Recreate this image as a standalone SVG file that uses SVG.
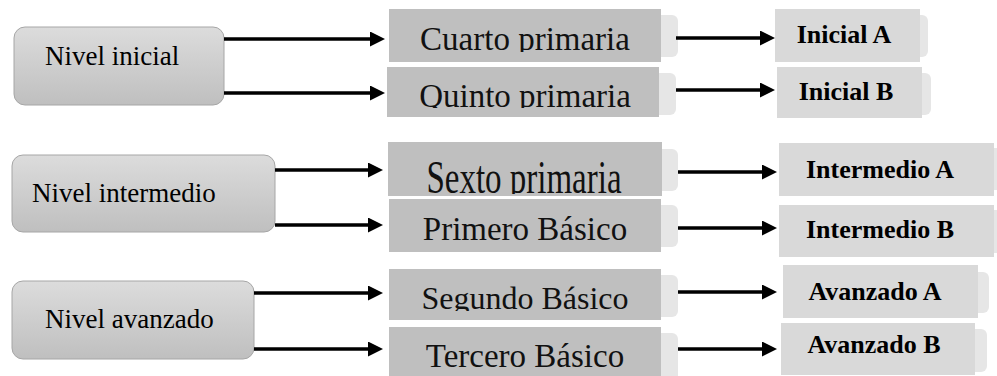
<svg xmlns="http://www.w3.org/2000/svg" width="997" height="376" viewBox="0 0 997 376">
<style>
.lvl{fill:url(#lg);stroke:#a6a6a6;stroke-width:1}
.mid{fill:#bfbfbf}
.rgt{fill:#d9d9d9}
.shd{fill:#e6e6e6}
.t1{font-family:"Liberation Serif",serif;font-size:27px;fill:#000}
.t2{font-family:"Liberation Serif",serif;font-size:33px;fill:#111;text-anchor:middle}
.t3{font-family:"Liberation Serif",serif;font-size:26px;font-weight:bold;fill:#000;text-anchor:middle}
.ar{stroke:#000;stroke-width:3.5;fill:none;marker-end:url(#ah)}
</style>
<defs>
<linearGradient id="lg" x1="0" y1="0" x2="0" y2="1">
<stop offset="0" stop-color="#dcdcdc"/>
<stop offset="1" stop-color="#bfbfbf"/>
</linearGradient>
<marker id="ah" markerUnits="userSpaceOnUse" markerWidth="16" markerHeight="16" refX="2" refY="7.5" orient="auto">
<path d="M0,0 L15,7.5 L0,15 Z" fill="#000"/>
</marker>
<clipPath id="c1"><rect x="389" y="9" width="272" height="43"/></clipPath>
<clipPath id="c2"><rect x="387" y="67" width="272" height="41"/></clipPath>
<clipPath id="c3"><rect x="388" y="142" width="274" height="52"/></clipPath>
<clipPath id="c4"><rect x="389" y="269" width="272" height="42"/></clipPath>
</defs>

<g id="nivel-inicial">
<rect class="lvl" x="14" y="27" width="210" height="78" rx="11"/>
<text class="t1" x="45" y="65">Nivel inicial</text>
</g>
<g id="nivel-intermedio">
<rect class="lvl" x="12" y="155" width="263" height="77" rx="11"/>
<text class="t1" x="32" y="202">Nivel intermedio</text>
</g>
<g id="nivel-avanzado">
<rect class="lvl" x="12" y="281" width="242" height="78" rx="11"/>
<text class="t1" x="45" y="328">Nivel avanzado</text>
</g>

<g id="cuarto-primaria">
<rect class="shd" x="400" y="15" width="278" height="42" rx="6"/>
<rect class="mid" x="389" y="9" width="272" height="53"/>
<text class="t2" x="525" y="50" clip-path="url(#c1)">Cuarto primaria</text>
</g>
<g id="quinto-primaria">
<rect class="shd" x="400" y="73" width="276" height="42" rx="6"/>
<rect class="mid" x="387" y="67" width="272" height="50"/>
<text class="t2" x="525" y="107" clip-path="url(#c2)">Quinto primaria</text>
</g>
<g id="sexto-primaria">
<rect class="shd" x="400" y="149" width="278" height="42" rx="6"/>
<rect class="mid" x="388" y="142" width="274" height="54"/>
<g clip-path="url(#c3)">
<text class="t2" x="524" y="0" transform="translate(0,193) scale(1,1.4)">Sexto primaria</text>
</g>
</g>
<g id="primero-basico">
<rect class="shd" x="400" y="205" width="278" height="42" rx="6"/>
<rect class="mid" x="389" y="199" width="272" height="53"/>
<text class="t2" x="525" y="240">Primero Básico</text>
</g>
<g id="segundo-basico">
<rect class="shd" x="400" y="275" width="278" height="42" rx="6"/>
<rect class="mid" x="389" y="269" width="272" height="51"/>
<text class="t2" x="525" y="309" style="font-size:32px" clip-path="url(#c4)">Segundo Básico</text>
</g>
<g id="tercero-basico">
<rect class="shd" x="400" y="333" width="278" height="50" rx="6"/>
<rect class="mid" x="389" y="327" width="272" height="49"/>
<text class="t2" x="525" y="367">Tercero Básico</text>
</g>

<g id="inicial-a">
<rect class="shd" x="790" y="15" width="138" height="42" rx="6"/>
<rect class="rgt" x="775" y="9" width="145" height="53"/>
<text class="t3" x="844" y="43">Inicial A</text>
</g>
<g id="inicial-b">
<rect class="shd" x="790" y="73" width="141" height="42" rx="6"/>
<rect class="rgt" x="777" y="67" width="145" height="51"/>
<text class="t3" x="846" y="100">Inicial B</text>
</g>
<g id="intermedio-a">
<rect class="shd" x="790" y="148" width="215" height="42" rx="6"/>
<rect class="rgt" x="779" y="143" width="215" height="53"/>
<text class="t3" x="880" y="178">Intermedio A</text>
</g>
<g id="intermedio-b">
<rect class="shd" x="790" y="210" width="215" height="43" rx="6"/>
<rect class="rgt" x="779" y="205" width="215" height="52"/>
<text class="t3" x="880" y="238">Intermedio B</text>
</g>
<g id="avanzado-a">
<rect class="shd" x="795" y="272" width="194" height="41" rx="6"/>
<rect class="rgt" x="783" y="265" width="195" height="53"/>
<text class="t3" x="875" y="300">Avanzado A</text>
</g>
<g id="avanzado-b">
<rect class="shd" x="795" y="329" width="192" height="43" rx="6"/>
<rect class="rgt" x="781" y="323" width="194" height="52"/>
<text class="t3" x="874" y="353">Avanzado B</text>
</g>

<g id="connectors">
<line class="ar" x1="224" y1="39" x2="372" y2="39"/>
<line class="ar" x1="224" y1="93" x2="372" y2="93"/>
<line class="ar" x1="275" y1="170" x2="370" y2="170"/>
<line class="ar" x1="275" y1="225" x2="370" y2="225"/>
<line class="ar" x1="254" y1="293" x2="370" y2="293"/>
<line class="ar" x1="254" y1="349" x2="370" y2="349"/>
<line class="ar" x1="676" y1="38" x2="762" y2="38"/>
<line class="ar" x1="676" y1="90" x2="762" y2="90"/>
<line class="ar" x1="678" y1="172" x2="764" y2="172"/>
<line class="ar" x1="678" y1="228" x2="764" y2="228"/>
<line class="ar" x1="678" y1="292" x2="764" y2="292"/>
<line class="ar" x1="678" y1="349" x2="764" y2="349"/>
</g>
</svg>
